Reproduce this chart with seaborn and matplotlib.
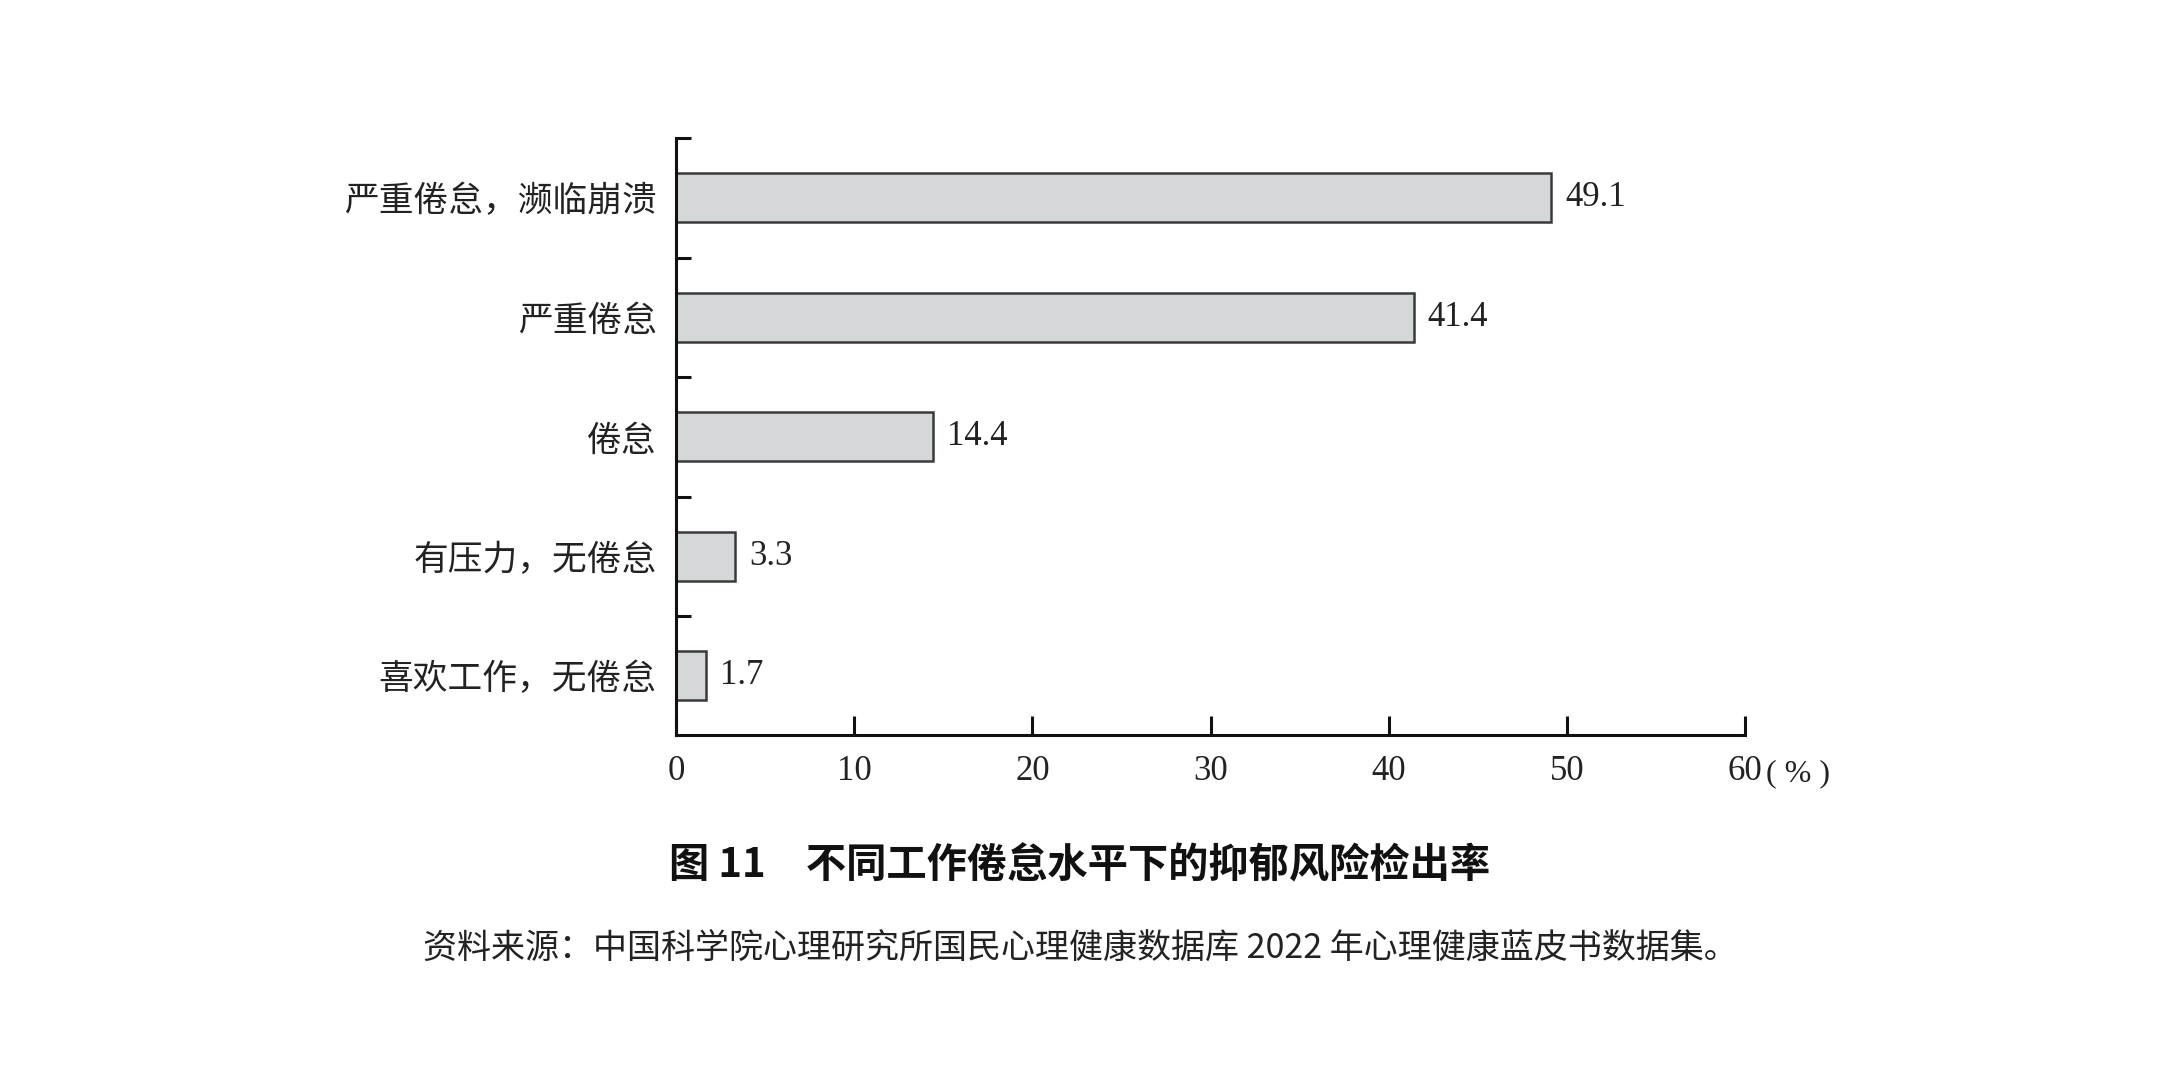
import matplotlib
matplotlib.use("Agg")
import matplotlib.pyplot as plt
import seaborn as sns
import pandas as pd

# data
categories = ["严重倦怠，濒临崩溃", "严重倦怠", "倦怠", "有压力，无倦怠", "喜欢工作，无倦怠"]
rates = [49.1, 41.4, 14.4, 3.3, 1.7]
xticks = [0, 10, 20, 30, 40, 50, 60]
xtick_labels = ["0", "10", "20", "30", "40", "50", "60"]

title = "图 11　不同工作倦怠水平下的抑郁风险检出率"
source = "资料来源：中国科学院心理研究所国民心理健康数据库 2022 年心理健康蓝皮书数据集。"

df = pd.DataFrame({"category": categories, "rate": rates})

sns.set_style("white")
plt.rcParams['font.family'] = ['Noto Sans CJK SC', 'DejaVu Sans']

fig = plt.figure(figsize=(21.6, 10.8), dpi=100)
ax = fig.add_axes([0.313, 0.319, 0.495, 0.553])

sns.barplot(data=df, y="category", x="rate", orient="h", ax=ax,
            color="#d5d8d8", edgecolor="#3a3a3a", linewidth=1.8, width=0.41,
            saturation=1)

ax.bar_label(ax.containers[0], labels=[f"{v:.1f}" for v in rates], padding=10,
             fontsize=25, family="Liberation Serif", color="#222222")

ax.set_xlim(0, 60)
ax.set_ylim(4.5, -0.5)
ax.set_xticks(xticks)
ax.set_xticklabels(xtick_labels, family="Liberation Serif", fontsize=25, color="#222222")
ax.tick_params(axis="x", bottom=True, direction="in", length=14, width=2.2,
               pad=14, color="#111111")

# category labels at bar centres, tick marks at the boundaries
ax.set_yticks(range(len(categories)))
ax.set_yticklabels(categories, fontsize=25, color="#222222")
ax.set_yticks([i - 0.5 for i in range(len(categories))], minor=True)
ax.tick_params(axis="y", which="major", left=False, length=0, pad=14)
ax.tick_params(axis="y", which="minor", left=True, direction="in", length=11,
               width=2.2, color="#111111")

ax.annotate("( % )", xy=(60, 0), xycoords=("data", "axes fraction"),
            xytext=(15, -33), textcoords="offset points",
            ha="left", va="baseline", fontsize=23, family="Liberation Serif",
            color="#222222")

ax.set_xlabel("")
ax.set_ylabel("")
for side in ["top", "right"]:
    ax.spines[side].set_visible(False)
for side in ["left", "bottom"]:
    ax.spines[side].set_linewidth(2.2)
    ax.spines[side].set_color("#111111")

fig.text(0.5, 0.198, title, ha="center", va="center", fontsize=29,
         fontweight="bold", color="#111111")
fig.text(0.5, 0.121, source, ha="center", va="center", fontsize=24.5, color="#222222")

fig.savefig("out.png", dpi=100, facecolor="white")
